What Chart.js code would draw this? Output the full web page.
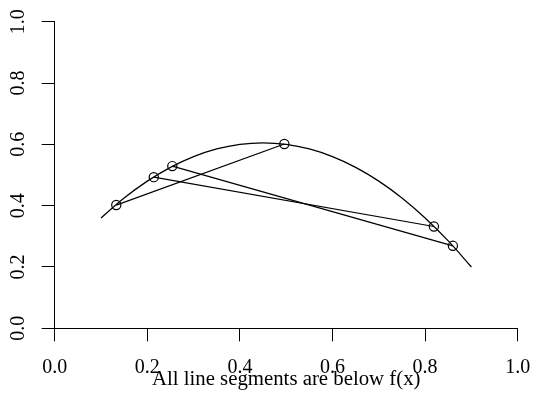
<!DOCTYPE html>
<html>
<head>
<meta charset="utf-8">
<script src="https://cdn.jsdelivr.net/npm/chart.js@4/dist/chart.umd.min.js"></script>
<style>
  html, body { margin: 0; padding: 0; background: #fff; }
  canvas { display: block; }
</style>
</head>
<body>
<canvas id="c" width="534" height="400"></canvas>
<script>
// Curve f(x)
const curveX = [0.10, 0.15, 0.20, 0.25, 0.30, 0.35, 0.40, 0.45, 0.50, 0.55, 0.60, 0.65, 0.70, 0.75, 0.80, 0.85, 0.90];
const curveY = [0.36, 0.425, 0.48, 0.525, 0.56, 0.585, 0.60, 0.605, 0.60, 0.585, 0.56, 0.525, 0.48, 0.425, 0.36, 0.285, 0.20];
// Circled points on the curve
const pointX = [0.133, 0.214, 0.254, 0.496, 0.819, 0.860];
const pointY = [0.402, 0.493, 0.529, 0.601, 0.332, 0.269];
// Line segments joining pairs of points (indices into the point arrays)
const segmentPairs = [[0, 3], [1, 4], [2, 5]];
// Axis ticks
const xTicks = [0.0, 0.2, 0.4, 0.6, 0.8, 1.0];
const yTicks = [0.0, 0.2, 0.4, 0.6, 0.8, 1.0];
const xTitle = "All line segments are below f(x)";

const FONT = "'Liberation Serif', 'Times New Roman', serif";

const datasets = [];
datasets.push({
  data: pointX.map((x, i) => ({x, y: pointY[i]})),
  showLine: false,
  pointRadius: 4.6,
  pointBorderWidth: 1.2,
  pointBorderColor: '#000',
  pointBackgroundColor: 'rgba(0,0,0,0)',
  pointHoverRadius: 4.6
});
segmentPairs.forEach(([a, b]) => {
  datasets.push({
    data: [{x: pointX[a], y: pointY[a]}, {x: pointX[b], y: pointY[b]}],
    showLine: true,
    borderColor: '#000',
    borderWidth: 1.25,
    pointRadius: 0,
    pointHoverRadius: 0
  });
});
datasets.push({
  data: curveX.map((x, i) => ({x, y: curveY[i]})),
  showLine: true,
  borderColor: '#000',
  borderWidth: 1.25,
  pointRadius: 0,
  pointHoverRadius: 0,
  tension: 0.4
});

new Chart(document.getElementById('c'), {
  type: 'scatter',
  data: { datasets },
  options: {
    responsive: false,
    animation: false,
    events: [],
    layout: { autoPadding: false, padding: { left: 0, top: 21.7, right: 16.3, bottom: 0 } },
    plugins: { legend: { display: false }, tooltip: { enabled: false } },
    scales: {
      x: {
        type: 'linear', min: 0, max: 1,
        afterBuildTicks: s => { s.ticks = xTicks.map(v => ({value: v})); },
        afterFit: s => { s.height = 71.7; s.paddingLeft = 0; s.paddingRight = 0; },
        border: { display: true, color: '#000', width: 1 },
        grid: { drawOnChartArea: false, drawTicks: true, tickLength: 13, color: '#000', lineWidth: 1 },
        ticks: {
          color: '#000', padding: 14, maxRotation: 0, autoSkip: false,
          font: { family: FONT, size: 20 },
          callback: v => Number(v).toFixed(1)
        },
        title: {
          display: true, text: xTitle, color: '#000',
          font: { family: FONT, size: 20.8 },
          padding: { top: 0, bottom: 7.5 }
        }
      },
      y: {
        type: 'linear', min: 0, max: 1,
        afterBuildTicks: s => { s.ticks = yTicks.map(v => ({value: v})); },
        afterFit: s => { s.width = 54.7; s.paddingTop = 0; s.paddingBottom = 0; },
        border: { display: true, color: '#000', width: 1 },
        grid: { drawOnChartArea: false, drawTicks: true, tickLength: 13, color: '#000', lineWidth: 1 },
        ticks: {
          color: '#000', padding: 10, minRotation: 90, maxRotation: 90, crossAlign: 'center', autoSkip: false,
          font: { family: FONT, size: 20 },
          callback: v => Number(v).toFixed(1)
        }
      }
    }
  }
});
</script>
</body>
</html>
